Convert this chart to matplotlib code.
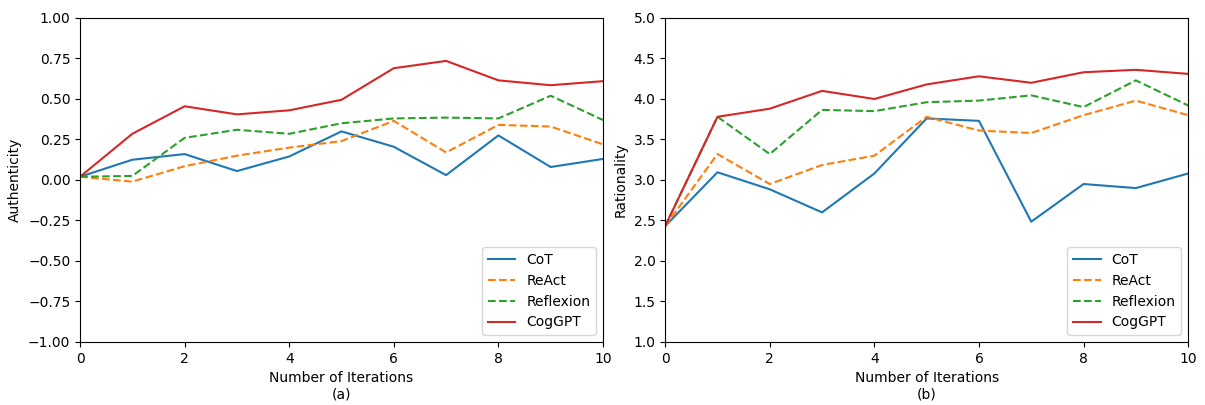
import matplotlib
matplotlib.use('Agg')
import matplotlib.pyplot as plt

iterations = list(range(11))
labels = ["CoT", "ReAct", "Reflexion", "CogGPT"]

# authenticity (a)
auth_cot = [0.02, 0.125, 0.16, 0.055, 0.145, 0.30, 0.205, 0.03, 0.275, 0.08, 0.13]
auth_react = [0.02, -0.01, 0.085, 0.15, 0.20, 0.24, 0.365, 0.17, 0.34, 0.33, 0.22]
auth_reflexion = [0.02, 0.025, 0.26, 0.31, 0.285, 0.35, 0.38, 0.385, 0.38, 0.52, 0.37]
auth_coggpt = [0.02, 0.285, 0.455, 0.405, 0.43, 0.495, 0.69, 0.735, 0.615, 0.585, 0.61]

# rationality (b)
rat_cot = [2.43, 3.095, 2.885, 2.60, 3.08, 3.76, 3.73, 2.485, 2.95, 2.90, 3.08]
rat_react = [2.43, 3.32, 2.95, 3.185, 3.30, 3.78, 3.61, 3.58, 3.80, 3.98, 3.80]
rat_reflexion = [2.43, 3.78, 3.32, 3.865, 3.85, 3.96, 3.98, 4.045, 3.90, 4.23, 3.92]
rat_coggpt = [2.43, 3.78, 3.88, 4.10, 4.00, 4.18, 4.28, 4.20, 4.33, 4.36, 4.31]

colors = ["#1f77b4", "#ff7f0e", "#2ca02c", "#d62728"]
styles = ["-", "--", "--", "-"]


def draw(ax, series, ylabel, ylim, sub):
    for s, lab, c, ls in zip(series, labels, colors, styles):
        ax.plot(iterations, s, ls, color=c, label=lab, linewidth=1.5)
    ax.set_xlim(0, 10)
    ax.set_ylim(*ylim)
    ax.set_xlabel("Number of Iterations\n" + sub)
    ax.set_ylabel(ylabel)
    ax.legend(loc="lower right")


fig = plt.figure(figsize=(12.05, 4.05), dpi=100)
ax1 = fig.add_axes([0.0664, 0.1556, 0.434, 0.80])
ax2 = fig.add_axes([0.552, 0.1556, 0.434, 0.80])

draw(ax1, [auth_cot, auth_react, auth_reflexion, auth_coggpt], "Authenticity", (-1, 1), "(a)")
ax1.set_yticks([-1, -0.75, -0.5, -0.25, 0, 0.25, 0.5, 0.75, 1.0])
draw(ax2, [rat_cot, rat_react, rat_reflexion, rat_coggpt], "Rationality", (1, 5), "(b)")

plt.savefig("out.png", dpi=100)
